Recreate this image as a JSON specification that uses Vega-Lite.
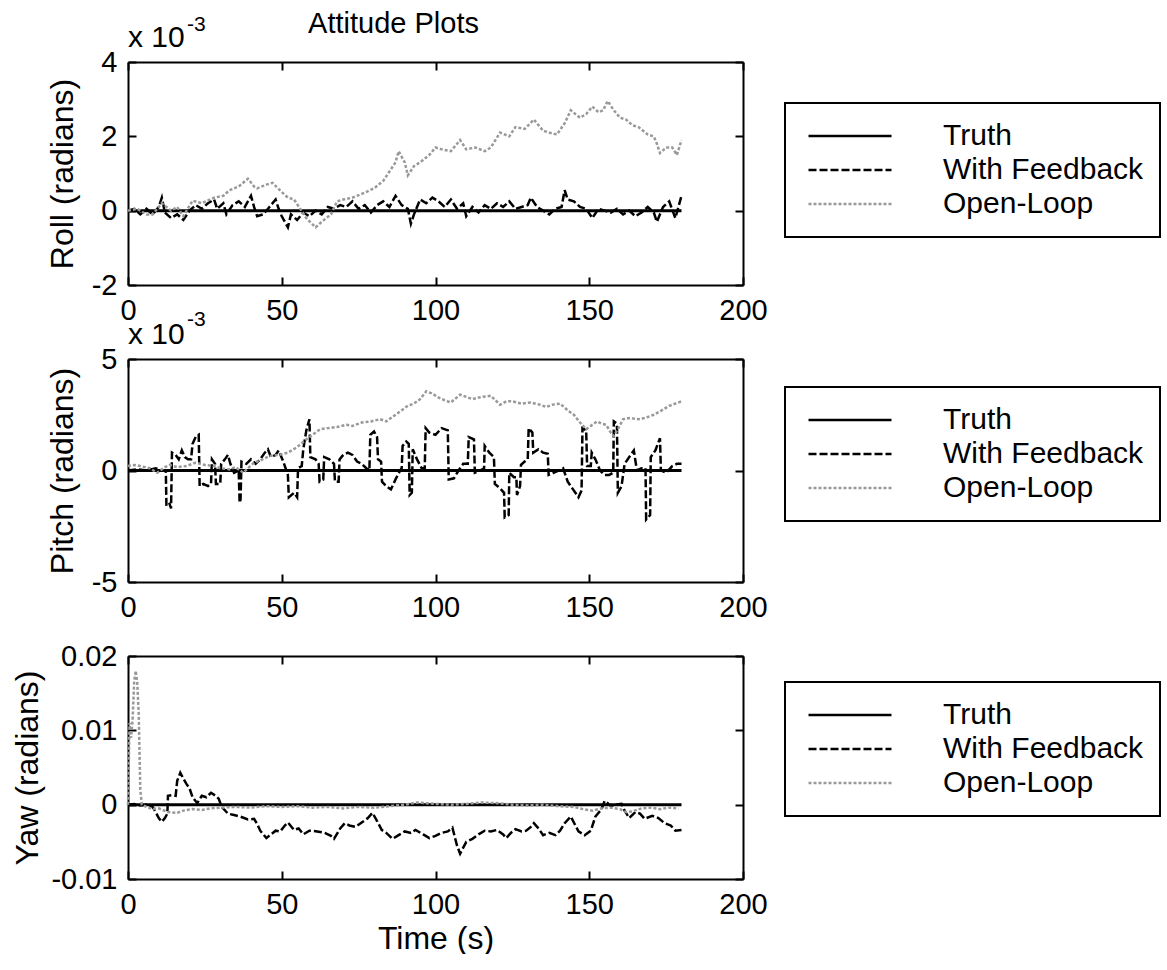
{
"$schema": "https://vega.github.io/schema/vega-lite/v6.json",
"background": "white",
"autosize": {"type": "pad"},
"padding": {"left": 11, "top": 10, "right": 0, "bottom": 0},
"bounds": "flush",
"spacing": 74,
"config": {
  "font": "Liberation Sans",
  "view": {"stroke": null},
  "axis": {"labelFont": "Liberation Sans", "labelFontSize": 29, "labelColor": "black", "titleFont": "Liberation Sans", "titleFontSize": 32, "titleFontWeight": "normal", "titleColor": "black", "domainColor": "black", "domainWidth": 2, "tickColor": "black", "tickWidth": 2, "tickSize": -8, "labelPadding": 19, "grid": false, "labelFlush": false, "labelOverlap": false},
  "legend": {"labelFont": "Liberation Sans", "labelFontSize": 30, "labelColor": "black", "symbolType": "stroke", "symbolSize": 6889, "symbolStrokeWidth": 2.5, "symbolOffset": 6, "clipHeight": 34, "labelOffset": 50, "labelLimit": 400, "padding": 16, "rowPadding": 0, "strokeColor": "black", "strokeWidth": 2, "fillColor": "white"},
  "title": {"font": "Liberation Sans", "fontSize": 29, "fontWeight": "normal", "color": "black"}
},
"datasets": {
  "rollWF": [{"t":0,"v":0},{"t":2,"v":0.05},{"t":4,"v":-0.1},{"t":6,"v":0.05},{"t":8,"v":-0.1},{"t":10,"v":0.1},{"t":11,"v":0.35},{"t":12,"v":-0.05},{"t":14,"v":-0.2},{"t":16,"v":-0.1},{"t":18,"v":-0.25},{"t":20,"v":0},{"t":22,"v":0.15},{"t":24,"v":0.05},{"t":26,"v":0.2},{"t":28,"v":0.3},{"t":29,"v":0.05},{"t":31,"v":0.2},{"t":32,"v":-0.1},{"t":34,"v":0.15},{"t":36,"v":0.25},{"t":38,"v":0.1},{"t":40,"v":0.4},{"t":41,"v":0.1},{"t":42,"v":-0.15},{"t":44,"v":-0.1},{"t":46,"v":0.1},{"t":48,"v":0.3},{"t":49,"v":0.05},{"t":50,"v":-0.15},{"t":52,"v":-0.45},{"t":53,"v":-0.1},{"t":55,"v":-0.25},{"t":57,"v":-0.05},{"t":59,"v":-0.15},{"t":61,"v":0},{"t":63,"v":-0.1},{"t":65,"v":0.1},{"t":67,"v":0.05},{"t":69,"v":0.15},{"t":71,"v":0.1},{"t":73,"v":0.25},{"t":75,"v":0.05},{"t":77,"v":0.15},{"t":79,"v":-0.05},{"t":81,"v":0.15},{"t":83,"v":0.25},{"t":85,"v":0.1},{"t":87,"v":0.4},{"t":89,"v":0.15},{"t":91,"v":0.05},{"t":92,"v":-0.35},{"t":93,"v":-0.1},{"t":95,"v":0.3},{"t":97,"v":0.2},{"t":99,"v":0.35},{"t":101,"v":0.25},{"t":103,"v":0.1},{"t":105,"v":0.3},{"t":107,"v":0.05},{"t":109,"v":0.2},{"t":110,"v":-0.15},{"t":112,"v":0.1},{"t":114,"v":-0.05},{"t":116,"v":0.15},{"t":118,"v":0.05},{"t":120,"v":0.2},{"t":122,"v":0.1},{"t":124,"v":0.25},{"t":126,"v":0.05},{"t":128,"v":0.1},{"t":130,"v":0.15},{"t":131,"v":0.35},{"t":133,"v":0.1},{"t":135,"v":0},{"t":137,"v":-0.1},{"t":139,"v":0.05},{"t":141,"v":0.1},{"t":142,"v":0.55},{"t":143,"v":0.3},{"t":145,"v":0.25},{"t":147,"v":0.1},{"t":149,"v":0.05},{"t":151,"v":-0.2},{"t":153,"v":0.05},{"t":155,"v":0},{"t":157,"v":-0.05},{"t":159,"v":0.05},{"t":161,"v":-0.1},{"t":163,"v":0},{"t":165,"v":-0.15},{"t":167,"v":-0.05},{"t":169,"v":0.1},{"t":171,"v":-0.05},{"t":172,"v":-0.3},{"t":174,"v":0.1},{"t":176,"v":0.25},{"t":178,"v":-0.2},{"t":179,"v":0.1},{"t":180,"v":0.4}],
  "rollOL": [{"t":0,"v":0},{"t":3,"v":0.05},{"t":6,"v":-0.1},{"t":8,"v":-0.1},{"t":11,"v":0.2},{"t":14,"v":0},{"t":16,"v":0.1},{"t":18,"v":-0.15},{"t":21,"v":0.27},{"t":24,"v":0.2},{"t":28,"v":0.35},{"t":31,"v":0.4},{"t":33,"v":0.55},{"t":36,"v":0.65},{"t":39,"v":0.86},{"t":41,"v":0.65},{"t":42,"v":0.6},{"t":45,"v":0.7},{"t":47,"v":0.75},{"t":50,"v":0.5},{"t":52,"v":0.35},{"t":54,"v":0.3},{"t":56,"v":0.05},{"t":58,"v":-0.2},{"t":61,"v":-0.45},{"t":63,"v":-0.3},{"t":66,"v":-0.1},{"t":68,"v":0.25},{"t":70,"v":0.3},{"t":73,"v":0.35},{"t":76,"v":0.45},{"t":80,"v":0.6},{"t":83,"v":0.8},{"t":85,"v":1.05},{"t":87,"v":1.3},{"t":88,"v":1.6},{"t":90,"v":1.3},{"t":91,"v":0.95},{"t":93,"v":1.2},{"t":95,"v":1.3},{"t":98,"v":1.5},{"t":100,"v":1.7},{"t":102,"v":1.65},{"t":105,"v":1.6},{"t":108,"v":1.9},{"t":110,"v":1.65},{"t":113,"v":1.7},{"t":116,"v":1.6},{"t":118,"v":1.7},{"t":121,"v":2.1},{"t":124,"v":2.0},{"t":126,"v":2.25},{"t":129,"v":2.2},{"t":132,"v":2.45},{"t":135,"v":2.15},{"t":137,"v":2.1},{"t":139.5,"v":2.05},{"t":142,"v":2.35},{"t":144,"v":2.7},{"t":147,"v":2.5},{"t":149,"v":2.6},{"t":151,"v":2.8},{"t":153,"v":2.65},{"t":154.5,"v":2.7},{"t":156,"v":2.95},{"t":158,"v":2.7},{"t":160,"v":2.5},{"t":162,"v":2.45},{"t":164,"v":2.3},{"t":166,"v":2.25},{"t":169,"v":2.05},{"t":171,"v":2.0},{"t":172,"v":1.8},{"t":173,"v":1.55},{"t":175,"v":1.7},{"t":177,"v":1.7},{"t":178.5,"v":1.5},{"t":180,"v":1.9}],
  "pitchWF": [{"t":0,"v":0},{"t":3,"v":0.05},{"t":6,"v":0},{"t":9,"v":0.1},{"t":11,"v":0},{"t":12.3,"v":0},{"t":12.5,"v":-1.6},{"t":13.5,"v":-1.5},{"t":14,"v":-1.7},{"t":14.3,"v":0.8},{"t":15.5,"v":0.7},{"t":16.5,"v":0.5},{"t":17.5,"v":0.9},{"t":18.5,"v":0.6},{"t":19.5,"v":0.5},{"t":20.5,"v":0.5},{"t":21,"v":1.2},{"t":22,"v":1.5},{"t":23,"v":1.6},{"t":23.3,"v":-0.7},{"t":24.5,"v":-0.6},{"t":26,"v":-0.7},{"t":27,"v":-0.6},{"t":27.3,"v":0.5},{"t":28.3,"v":0.3},{"t":28.6,"v":-0.6},{"t":30,"v":-0.6},{"t":30.3,"v":0.3},{"t":31.5,"v":0.5},{"t":32.5,"v":0.7},{"t":33.3,"v":0.3},{"t":34.5,"v":-0.1},{"t":36,"v":0},{"t":36.3,"v":-1.45},{"t":36.6,"v":-1.3},{"t":36.9,"v":0.4},{"t":38.5,"v":0.3},{"t":40,"v":0.5},{"t":41.5,"v":0.3},{"t":43,"v":0.5},{"t":44.5,"v":0.8},{"t":45.5,"v":0.95},{"t":46.5,"v":0.6},{"t":48,"v":0.7},{"t":49,"v":0.9},{"t":50.5,"v":0.4},{"t":51.5,"v":0},{"t":52,"v":-0.2},{"t":52.3,"v":-1.2},{"t":54,"v":-1.0},{"t":55,"v":-1.2},{"t":55.3,"v":0.1},{"t":56.5,"v":0.2},{"t":57,"v":0.95},{"t":58,"v":1.8},{"t":59,"v":2.3},{"t":59.3,"v":0.6},{"t":61,"v":0.5},{"t":62,"v":0.3},{"t":62.3,"v":-0.5},{"t":63.5,"v":-0.4},{"t":63.8,"v":0.6},{"t":65.5,"v":0.5},{"t":67,"v":0.3},{"t":67.3,"v":-0.5},{"t":68.5,"v":-0.5},{"t":68.8,"v":0.5},{"t":70,"v":0.7},{"t":71.5,"v":0.8},{"t":73,"v":0.7},{"t":74.5,"v":0.4},{"t":76,"v":0.3},{"t":77.5,"v":0.1},{"t":78.5,"v":0},{"t":78.8,"v":1.6},{"t":80,"v":1.75},{"t":81,"v":1.5},{"t":81.3,"v":0.5},{"t":82.3,"v":0.4},{"t":82.6,"v":-0.5},{"t":84,"v":-0.7},{"t":85.5,"v":-0.85},{"t":87,"v":-0.4},{"t":88.5,"v":0},{"t":89,"v":0.1},{"t":89.3,"v":1.1},{"t":90.5,"v":1.3},{"t":91.3,"v":1.2},{"t":91.6,"v":-1.1},{"t":92.3,"v":-1.0},{"t":92.6,"v":0.95},{"t":94,"v":0.5},{"t":95.5,"v":0.1},{"t":96.5,"v":0.1},{"t":96.8,"v":1.9},{"t":98,"v":1.7},{"t":100,"v":1.6},{"t":102,"v":1.9},{"t":104,"v":1.8},{"t":104.3,"v":-0.4},{"t":106,"v":-0.35},{"t":107.5,"v":0},{"t":109,"v":0.3},{"t":110.5,"v":0.3},{"t":110.8,"v":1.5},{"t":112.5,"v":1.4},{"t":112.8,"v":-0.1},{"t":114.5,"v":0},{"t":115.8,"v":0.1},{"t":116,"v":1.1},{"t":117.5,"v":0.8},{"t":119,"v":0.6},{"t":119.3,"v":-0.6},{"t":121,"v":-0.8},{"t":122.3,"v":-1.0},{"t":122.5,"v":-2.1},{"t":123.8,"v":-2.0},{"t":124,"v":-0.1},{"t":125.5,"v":-0.3},{"t":126.3,"v":-0.3},{"t":126.5,"v":-1.1},{"t":127.5,"v":-0.7},{"t":127.8,"v":0.25},{"t":129,"v":0.4},{"t":130,"v":0.5},{"t":130.3,"v":1.9},{"t":131.5,"v":1.7},{"t":131.8,"v":0.8},{"t":133.5,"v":0.95},{"t":135,"v":0.8},{"t":136.5,"v":0.75},{"t":136.8,"v":-0.2},{"t":138.5,"v":-0.1},{"t":140,"v":0},{"t":141.5,"v":0.1},{"t":143,"v":-0.5},{"t":144.5,"v":-0.8},{"t":146.5,"v":-1.2},{"t":147.5,"v":-0.9},{"t":147.8,"v":1.9},{"t":149,"v":1.8},{"t":149.3,"v":0.2},{"t":150.5,"v":0.2},{"t":150.8,"v":0.8},{"t":152,"v":0.5},{"t":153.5,"v":0},{"t":155,"v":-0.2},{"t":156.5,"v":-0.2},{"t":157.8,"v":-0.1},{"t":158,"v":2.2},{"t":159,"v":2.1},{"t":159.3,"v":-1.0},{"t":160.5,"v":-0.7},{"t":161.5,"v":0.3},{"t":163.5,"v":0.7},{"t":164.5,"v":0.9},{"t":165.5,"v":0},{"t":167,"v":0.1},{"t":168.3,"v":0.1},{"t":168.5,"v":-2.2},{"t":169.8,"v":-2.0},{"t":170,"v":0.6},{"t":171.5,"v":0.9},{"t":173,"v":1.45},{"t":173.3,"v":0},{"t":175,"v":-0.1},{"t":177,"v":0.2},{"t":178.5,"v":0.3},{"t":180,"v":0.3}],
  "pitchOL": [{"t":0,"v":0.2},{"t":2,"v":0.25},{"t":4,"v":0.2},{"t":7,"v":0.1},{"t":9.5,"v":-0.1},{"t":12,"v":0.15},{"t":13.5,"v":0.25},{"t":16,"v":0.15},{"t":19,"v":0.2},{"t":22,"v":0.35},{"t":25,"v":0.25},{"t":28,"v":0.2},{"t":30,"v":0.1},{"t":33,"v":0.05},{"t":35,"v":0.15},{"t":37.5,"v":-0.1},{"t":39,"v":0.1},{"t":41,"v":0.35},{"t":43,"v":0.45},{"t":46,"v":0.65},{"t":49,"v":0.7},{"t":52,"v":0.8},{"t":55,"v":1.05},{"t":58,"v":1.4},{"t":60,"v":1.6},{"t":62.5,"v":1.85},{"t":65,"v":1.9},{"t":68,"v":1.95},{"t":71,"v":2.05},{"t":73,"v":2.0},{"t":76,"v":2.15},{"t":79,"v":2.2},{"t":82,"v":2.3},{"t":84,"v":2.2},{"t":87,"v":2.5},{"t":89.5,"v":2.75},{"t":91,"v":2.9},{"t":93,"v":3.0},{"t":95,"v":3.2},{"t":97,"v":3.55},{"t":99,"v":3.45},{"t":100.5,"v":3.3},{"t":103,"v":3.15},{"t":105,"v":3.05},{"t":108,"v":3.4},{"t":110,"v":3.3},{"t":112,"v":3.2},{"t":115,"v":3.3},{"t":118,"v":3.35},{"t":121,"v":2.95},{"t":123,"v":3.1},{"t":125,"v":3.1},{"t":128,"v":3.0},{"t":131,"v":3.05},{"t":134,"v":2.95},{"t":136,"v":2.85},{"t":138,"v":2.95},{"t":140.5,"v":3.0},{"t":143,"v":2.7},{"t":145,"v":2.5},{"t":147,"v":2.15},{"t":149,"v":1.85},{"t":151,"v":2.05},{"t":152.5,"v":2.2},{"t":154,"v":2.1},{"t":155.5,"v":2.05},{"t":157,"v":1.7},{"t":158,"v":1.55},{"t":159.5,"v":1.9},{"t":161,"v":2.3},{"t":163,"v":2.35},{"t":166.5,"v":2.3},{"t":169,"v":2.4},{"t":171,"v":2.5},{"t":173,"v":2.65},{"t":176,"v":2.9},{"t":178,"v":3.0},{"t":180,"v":3.1}],
  "yawWF": [{"t":0,"v":0},{"t":2,"v":0.0001},{"t":4,"v":-0.0001},{"t":6,"v":0},{"t":8,"v":-0.0003},{"t":9,"v":-0.001},{"t":10,"v":-0.0018},{"t":11,"v":-0.0023},{"t":12,"v":-0.0018},{"t":12.8,"v":-0.0012},{"t":13,"v":0.0012},{"t":14.5,"v":0.0013},{"t":15.5,"v":0.0012},{"t":16,"v":0.0032},{"t":17,"v":0.0043},{"t":18,"v":0.0035},{"t":19,"v":0.0028},{"t":20,"v":0.0022},{"t":21,"v":0.001},{"t":22.5,"v":0.0002},{"t":24,"v":0.0012},{"t":25.5,"v":0.001},{"t":27,"v":0.0016},{"t":28.5,"v":0.0012},{"t":29.5,"v":0.0008},{"t":30.5,"v":-0.0003},{"t":32.5,"v":-0.0012},{"t":34.5,"v":-0.0014},{"t":36.5,"v":-0.0016},{"t":39,"v":-0.002},{"t":41,"v":-0.0019},{"t":42,"v":-0.0026},{"t":43,"v":-0.0035},{"t":45,"v":-0.0045},{"t":46.5,"v":-0.004},{"t":48,"v":-0.0035},{"t":49.5,"v":-0.0036},{"t":51,"v":-0.0028},{"t":52,"v":-0.0024},{"t":54,"v":-0.0034},{"t":55.5,"v":-0.0032},{"t":57,"v":-0.004},{"t":59,"v":-0.0035},{"t":61.5,"v":-0.0036},{"t":64,"v":-0.0038},{"t":66,"v":-0.0042},{"t":67,"v":-0.0046},{"t":69,"v":-0.0032},{"t":70.5,"v":-0.0025},{"t":72,"v":-0.0028},{"t":74,"v":-0.003},{"t":76,"v":-0.0024},{"t":78,"v":-0.0018},{"t":79.5,"v":-0.0011},{"t":81,"v":-0.0022},{"t":82.5,"v":-0.0034},{"t":84,"v":-0.0038},{"t":86,"v":-0.0046},{"t":88,"v":-0.0041},{"t":90,"v":-0.0036},{"t":92,"v":-0.0038},{"t":93.5,"v":-0.0034},{"t":96,"v":-0.004},{"t":98,"v":-0.0045},{"t":100,"v":-0.0042},{"t":102,"v":-0.0038},{"t":104,"v":-0.0036},{"t":105.5,"v":-0.0031},{"t":107,"v":-0.0055},{"t":108,"v":-0.0066},{"t":110,"v":-0.005},{"t":112,"v":-0.0046},{"t":114,"v":-0.004},{"t":116,"v":-0.0035},{"t":118,"v":-0.0036},{"t":120,"v":-0.0034},{"t":122,"v":-0.004},{"t":123,"v":-0.0045},{"t":124.5,"v":-0.0038},{"t":126,"v":-0.0033},{"t":128,"v":-0.0036},{"t":129.5,"v":-0.0035},{"t":131,"v":-0.003},{"t":132,"v":-0.0025},{"t":133.5,"v":-0.0032},{"t":135,"v":-0.0041},{"t":137,"v":-0.0038},{"t":139,"v":-0.0041},{"t":140.5,"v":-0.0035},{"t":142,"v":-0.0025},{"t":144,"v":-0.0016},{"t":145.5,"v":-0.0028},{"t":146.5,"v":-0.0036},{"t":148.5,"v":-0.0041},{"t":150.5,"v":-0.0035},{"t":152,"v":-0.0016},{"t":154,"v":-0.0006},{"t":155,"v":0.0005},{"t":156,"v":0.0002},{"t":157,"v":-0.0002},{"t":158.5,"v":0},{"t":160.5,"v":0.0001},{"t":161.5,"v":-0.0008},{"t":163,"v":-0.0018},{"t":165,"v":-0.001},{"t":166.5,"v":-0.0012},{"t":168,"v":-0.0019},{"t":170.5,"v":-0.0015},{"t":172.5,"v":-0.0018},{"t":174.5,"v":-0.0025},{"t":176.5,"v":-0.0028},{"t":178,"v":-0.0035},{"t":180,"v":-0.0034}],
  "yawOL": [{"t":0,"v":0},{"t":0.5,"v":0.011},{"t":1,"v":0.009},{"t":1.5,"v":0.0115},{"t":2,"v":0.0165},{"t":2.5,"v":0.018},{"t":3,"v":0.0165},{"t":3.5,"v":0.012},{"t":4,"v":0.002},{"t":4.5,"v":0},{"t":6,"v":-0.0003},{"t":8,"v":-0.0006},{"t":10,"v":-0.0005},{"t":13,"v":-0.001},{"t":16,"v":-0.0011},{"t":18,"v":-0.0008},{"t":21,"v":-0.0006},{"t":24,"v":-0.0007},{"t":27,"v":-0.0005},{"t":30,"v":-0.0004},{"t":35,"v":-0.0003},{"t":40,"v":-0.0004},{"t":45,"v":-0.0002},{"t":50,"v":-0.0003},{"t":55,"v":-0.0002},{"t":60,"v":-0.0004},{"t":65,"v":-0.0003},{"t":70,"v":-0.0005},{"t":75,"v":-0.0003},{"t":80,"v":-0.0004},{"t":85,"v":-0.0002},{"t":90,"v":0},{"t":94,"v":0.0003},{"t":97,"v":0.0002},{"t":100,"v":0.0001},{"t":105,"v":0},{"t":110,"v":0.0001},{"t":115,"v":0.0003},{"t":120,"v":0.0002},{"t":125,"v":0},{"t":130,"v":-0.0001},{"t":135,"v":0},{"t":140,"v":-0.0002},{"t":145,"v":-0.0003},{"t":148,"v":-0.0006},{"t":151,"v":-0.0008},{"t":154,"v":-0.0005},{"t":157,"v":-0.0004},{"t":160,"v":-0.0006},{"t":162,"v":-0.001},{"t":164,"v":-0.0009},{"t":167,"v":-0.0005},{"t":170,"v":-0.0004},{"t":173,"v":-0.0006},{"t":176,"v":-0.0004},{"t":179,"v":-0.0005}],
  "truth": [{"t":0,"v":0},{"t":180,"v":0}]
},
"resolve": {"scale": {"color": "independent", "strokeDash": "independent"}},
"vconcat": [
  {
    "width": 615, "height": 223,
    "title": {"text": "Attitude Plots", "anchor": "middle", "frame": "group", "dx": -42, "dy": 29},
    "resolve": {"axis": {"x": "independent", "y": "independent"}},
    "layer": [
      {"data": {"name": "truth"}, "mark": {"type": "line", "strokeWidth": 3},
       "encoding": {
         "x": {"field": "t", "type": "quantitative", "scale": {"domain": [0, 200], "nice": false}, "axis": {"orient": "top", "labels": false, "title": null, "values": [0, 50, 100, 150, 200]}},
         "y": {"field": "v", "type": "quantitative", "scale": {"domain": [-2, 4], "nice": false}, "axis": {"orient": "right", "labels": false, "title": null, "values": [-2, 0, 2, 4]}},
         "color": {"datum": "Truth", "type": "nominal", "scale": {"domain": ["Truth", "With Feedback", "Open-Loop"], "range": ["#000000", "#000000", "#999999"]}, "legend": {"title": null, "orient": "none", "legendX": 657, "legendY": 41}},
         "strokeDash": {"datum": "Truth", "type": "nominal", "scale": {"domain": ["Truth", "With Feedback", "Open-Loop"], "range": [[1, 0], [8, 3], [3, 2]]}, "legend": {"title": null, "orient": "none", "legendX": 657, "legendY": 41}}
       }},
      {"data": {"name": "rollWF"}, "mark": {"type": "line", "strokeWidth": 2.5},
       "encoding": {
         "x": {"field": "t", "type": "quantitative", "scale": {"domain": [0, 200], "nice": false}, "axis": {"orient": "bottom", "title": null, "values": [0, 50, 100, 150, 200]}},
         "y": {"field": "v", "type": "quantitative", "scale": {"domain": [-2, 4], "nice": false}, "axis": {"orient": "left", "title": "Roll (radians)", "titlePadding": 12, "values": [-2, 0, 2, 4], "labelExpr": "'' + datum.value"}},
         "color": {"datum": "With Feedback", "type": "nominal"},
         "strokeDash": {"datum": "With Feedback", "type": "nominal"}
       }},
      {"data": {"name": "rollOL"}, "mark": {"type": "line", "strokeWidth": 2.5},
       "encoding": {
         "x": {"field": "t", "type": "quantitative", "axis": null},
         "y": {"field": "v", "type": "quantitative", "axis": null},
         "color": {"datum": "Open-Loop", "type": "nominal"},
         "strokeDash": {"datum": "Open-Loop", "type": "nominal"}
       }},
      {"data": {"values": [{}]}, "mark": {"type": "text", "text": "x 10", "align": "left", "baseline": "alphabetic", "dy": -15, "fontSize": 30, "color": "black", "font": "Liberation Sans"},
       "encoding": {"x": {"datum": 0, "axis": null}, "y": {"datum": 4, "axis": null}}},
      {"data": {"values": [{}]}, "mark": {"type": "text", "text": "-3", "align": "left", "baseline": "alphabetic", "dx": 59, "dy": -31, "fontSize": 21, "color": "black", "font": "Liberation Sans"},
       "encoding": {"x": {"datum": 0, "axis": null}, "y": {"datum": 4, "axis": null}}}
    ]
  },
  {
    "width": 615, "height": 223,
    "resolve": {"axis": {"x": "independent", "y": "independent"}},
    "layer": [
      {"data": {"name": "truth"}, "mark": {"type": "line", "strokeWidth": 3},
       "encoding": {
         "x": {"field": "t", "type": "quantitative", "scale": {"domain": [0, 200], "nice": false}, "axis": {"orient": "top", "labels": false, "title": null, "values": [0, 50, 100, 150, 200]}},
         "y": {"field": "v", "type": "quantitative", "scale": {"domain": [-5, 5], "nice": false}, "axis": {"orient": "right", "labels": false, "title": null, "values": [-5, 0, 5]}},
         "color": {"datum": "Truth", "type": "nominal", "scale": {"domain": ["Truth", "With Feedback", "Open-Loop"], "range": ["#000000", "#000000", "#999999"]}, "legend": {"title": null, "orient": "none", "legendX": 657, "legendY": 28}},
         "strokeDash": {"datum": "Truth", "type": "nominal", "scale": {"domain": ["Truth", "With Feedback", "Open-Loop"], "range": [[1, 0], [8, 3], [3, 2]]}, "legend": {"title": null, "orient": "none", "legendX": 657, "legendY": 28}}
       }},
      {"data": {"name": "pitchWF"}, "mark": {"type": "line", "strokeWidth": 2.5},
       "encoding": {
         "x": {"field": "t", "type": "quantitative", "scale": {"domain": [0, 200], "nice": false}, "axis": {"orient": "bottom", "title": null, "values": [0, 50, 100, 150, 200]}},
         "y": {"field": "v", "type": "quantitative", "scale": {"domain": [-5, 5], "nice": false}, "axis": {"orient": "left", "title": "Pitch (radians)", "titlePadding": 12, "values": [-5, 0, 5], "labelExpr": "'' + datum.value"}},
         "color": {"datum": "With Feedback", "type": "nominal"},
         "strokeDash": {"datum": "With Feedback", "type": "nominal"}
       }},
      {"data": {"name": "pitchOL"}, "mark": {"type": "line", "strokeWidth": 2.5},
       "encoding": {
         "x": {"field": "t", "type": "quantitative", "axis": null},
         "y": {"field": "v", "type": "quantitative", "axis": null},
         "color": {"datum": "Open-Loop", "type": "nominal"},
         "strokeDash": {"datum": "Open-Loop", "type": "nominal"}
       }},
      {"data": {"values": [{}]}, "mark": {"type": "text", "text": "x 10", "align": "left", "baseline": "alphabetic", "dy": -15, "fontSize": 30, "color": "black", "font": "Liberation Sans"},
       "encoding": {"x": {"datum": 0, "axis": null}, "y": {"datum": 5, "axis": null}}},
      {"data": {"values": [{}]}, "mark": {"type": "text", "text": "-3", "align": "left", "baseline": "alphabetic", "dx": 59, "dy": -33, "fontSize": 21, "color": "black", "font": "Liberation Sans"},
       "encoding": {"x": {"datum": 0, "axis": null}, "y": {"datum": 5, "axis": null}}}
    ]
  },
  {
    "width": 615, "height": 223,
    "resolve": {"axis": {"x": "independent", "y": "independent"}},
    "layer": [
      {"data": {"name": "truth"}, "mark": {"type": "line", "strokeWidth": 3},
       "encoding": {
         "x": {"field": "t", "type": "quantitative", "scale": {"domain": [0, 200], "nice": false}, "axis": {"orient": "top", "labels": false, "title": null, "values": [0, 50, 100, 150, 200]}},
         "y": {"field": "v", "type": "quantitative", "scale": {"domain": [-0.01, 0.02], "nice": false}, "axis": {"orient": "right", "labels": false, "title": null, "values": [-0.01, 0, 0.01, 0.02]}},
         "color": {"datum": "Truth", "type": "nominal", "scale": {"domain": ["Truth", "With Feedback", "Open-Loop"], "range": ["#000000", "#000000", "#999999"]}, "legend": {"title": null, "orient": "none", "legendX": 657, "legendY": 26}},
         "strokeDash": {"datum": "Truth", "type": "nominal", "scale": {"domain": ["Truth", "With Feedback", "Open-Loop"], "range": [[1, 0], [8, 3], [3, 2]]}, "legend": {"title": null, "orient": "none", "legendX": 657, "legendY": 26}}
       }},
      {"data": {"name": "yawWF"}, "mark": {"type": "line", "strokeWidth": 2.5},
       "encoding": {
         "x": {"field": "t", "type": "quantitative", "scale": {"domain": [0, 200], "nice": false}, "axis": {"orient": "bottom", "title": "Time (s)", "titlePadding": 4, "values": [0, 50, 100, 150, 200]}},
         "y": {"field": "v", "type": "quantitative", "scale": {"domain": [-0.01, 0.02], "nice": false}, "axis": {"orient": "left", "title": "Yaw (radians)", "titlePadding": 6, "values": [-0.01, 0, 0.01, 0.02], "labelExpr": "'' + datum.value"}},
         "color": {"datum": "With Feedback", "type": "nominal"},
         "strokeDash": {"datum": "With Feedback", "type": "nominal"}
       }},
      {"data": {"name": "yawOL"}, "mark": {"type": "line", "strokeWidth": 2.5},
       "encoding": {
         "x": {"field": "t", "type": "quantitative", "axis": null},
         "y": {"field": "v", "type": "quantitative", "axis": null},
         "color": {"datum": "Open-Loop", "type": "nominal"},
         "strokeDash": {"datum": "Open-Loop", "type": "nominal"}
       }}
    ]
  }
]
}
